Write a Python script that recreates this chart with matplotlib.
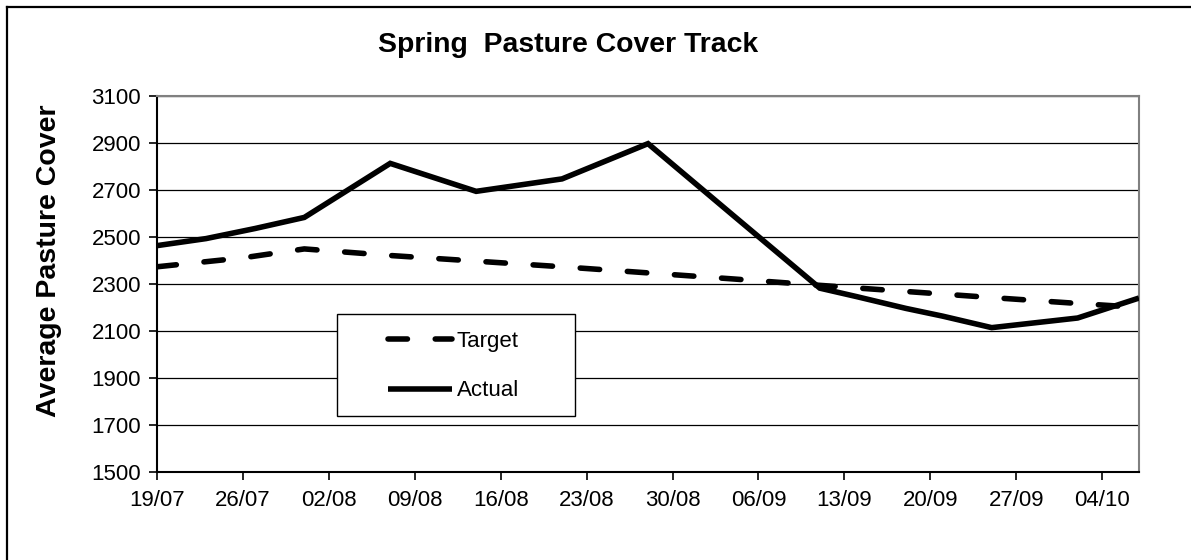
import pandas as pd
import numpy as np
import matplotlib
matplotlib.use('Agg')
import matplotlib.pyplot as plt
import matplotlib.dates as mdates
from matplotlib.lines import Line2D
from matplotlib.patches import Rectangle

plt.rcParams['font.family'] = ['Liberation Sans', 'DejaVu Sans']

# Target track (dashed)
target_dates = ['2013-07-19', '2013-07-26', '2013-07-31', '2013-08-07', '2013-08-14',
                '2013-08-21', '2013-08-28', '2013-09-04', '2013-09-11', '2013-09-18',
                '2013-09-25', '2013-10-02', '2013-10-07']
target_vals = [2372, 2410, 2448, 2420, 2396, 2372, 2346, 2320, 2293, 2267, 2241, 2216, 2199]

# Actual measured cover (solid)
actual_dates = ['2013-07-19', '2013-07-23', '2013-07-27', '2013-07-31', '2013-08-07',
                '2013-08-14', '2013-08-21', '2013-08-28', '2013-09-04', '2013-09-11',
                '2013-09-14', '2013-09-18', '2013-09-21', '2013-09-25', '2013-10-02',
                '2013-10-07']
actual_vals = [2462, 2492, 2535, 2582, 2812, 2693, 2746, 2896, 2588, 2281, 2245,
               2195, 2162, 2113, 2154, 2239]

tick_dates = ['2013-07-19', '2013-07-26', '2013-08-02', '2013-08-09', '2013-08-16',
              '2013-08-23', '2013-08-30', '2013-09-06', '2013-09-13', '2013-09-20',
              '2013-09-27', '2013-10-04']
y_ticks = [1500, 1700, 1900, 2100, 2300, 2500, 2700, 2900, 3100]

target = pd.Series(target_vals, index=pd.to_datetime(target_dates))
actual = pd.Series(actual_vals, index=pd.to_datetime(actual_dates))

W, H = 1191, 560
x0, x1, y_top, y_bot = 157, 1139, 95.7, 471.7
fig = plt.figure(figsize=(W / 100, H / 100), dpi=100)
ax = fig.add_axes([x0 / W, 1 - y_bot / H, (x1 - x0) / W, (y_bot - y_top) / H])

ax.plot(target.index, target.values, color='black', lw=4,
        linestyle=(0, (3.5, 5.0)), dash_capstyle='round', label='Target', zorder=3)
ax.plot(actual.index, actual.values, color='black', lw=4,
        solid_capstyle='butt', solid_joinstyle='miter', label='Actual', zorder=4)

ax.set_xlim(pd.Timestamp('2013-07-19'), pd.Timestamp('2013-10-07'))
ax.set_ylim(1500, 3100)
ax.set_yticks(y_ticks)
ax.set_xticks(pd.to_datetime(tick_dates))
ax.xaxis.set_major_formatter(mdates.DateFormatter('%d/%m'))
ax.yaxis.grid(True, color='black', lw=0.9)
ax.set_axisbelow(True)

ax.tick_params(axis='both', labelsize=16, length=5.5, width=1.2, color='black')
ax.tick_params(axis='x', pad=8)
ax.tick_params(axis='y', pad=6)

for side in ['left', 'bottom']:
    ax.spines[side].set_color('black')
    ax.spines[side].set_linewidth(1.5)
for side in ['top', 'right']:
    ax.spines[side].set_color('#808080')
    ax.spines[side].set_linewidth(1.5)

ax.set_ylabel('Average Pasture Cover', fontsize=20.5, fontweight='bold')
ax.yaxis.set_label_coords((62 - x0) / (x1 - x0), (y_bot - 261) / (y_bot - y_top))

fig.text(568 / W, 1 - 45 / H, 'Spring  Pasture Cover Track', ha='center', va='center',
         fontsize=20.4, fontweight='bold')

# legend box drawn separately so the entries can sit inset like the original
lx0, lx1, ly0, ly1 = 337, 575, 314, 416
ax.add_patch(Rectangle(((lx0 - x0) / (x1 - x0), (y_bot - ly1) / (y_bot - y_top)),
                       (lx1 - lx0) / (x1 - x0), (ly1 - ly0) / (y_bot - y_top),
                       transform=ax.transAxes, facecolor='white', edgecolor='black',
                       lw=1.0, zorder=5))
leg = ax.legend(loc='center left', bbox_to_anchor=((388 - x0) / (x1 - x0), (y_bot - 366) / (y_bot - y_top)),
                fontsize=16, frameon=False, handlelength=2.9, handletextpad=0.2,
                labelspacing=1.3, borderpad=0, borderaxespad=0)
leg.set_zorder(6)

# chart-area border (only top and left are inside the image)
fig.add_artist(Line2D([6.5 / W, 6.5 / W], [0, 1 - 6.5 / H], color='black', lw=1.6))
fig.add_artist(Line2D([6.5 / W, 1], [1 - 6.5 / H, 1 - 6.5 / H], color='black', lw=1.6))

fig.savefig('out.png', dpi=100)
